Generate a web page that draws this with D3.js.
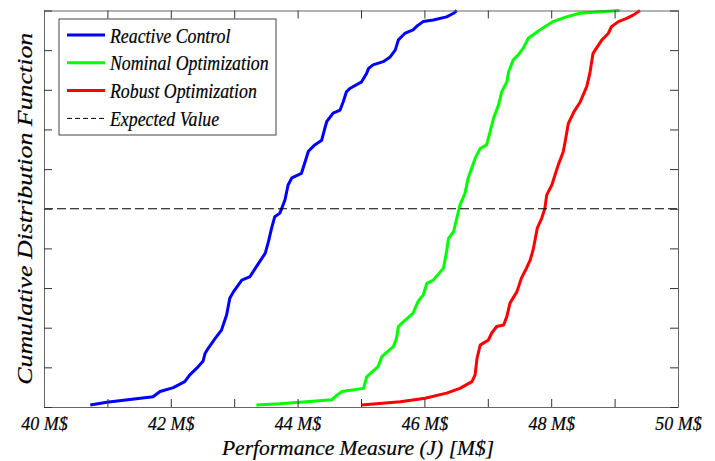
<!DOCTYPE html>
<html>
<head>
<meta charset="utf-8">
<script src="https://cdn.jsdelivr.net/npm/d3@7"></script>
<style>
  body { margin: 0; background: #fff; }
  text { font-family: "Liberation Serif", "Times New Roman", serif; font-style: italic; fill: #000; stroke: #000; stroke-width: 0.2px; }
</style>
</head>
<body>
<svg id="chart" width="715" height="461"></svg>
<script>
// empirical CDF samples, [performance M$, cumulative probability]
const reactive = [
  [40.73, .005], [40.99, .012], [41.72, .026], [41.83, .039], [42.04, .049], [42.22, .064],
  [42.30, .081], [42.41, .098], [42.51, .116], [42.54, .135], [42.59, .148], [42.70, .173],
  [42.80, .194], [42.88, .232], [42.93, .274], [42.99, .291], [43.12, .320], [43.25, .329],
  [43.35, .354], [43.49, .388], [43.54, .417], [43.59, .451], [43.64, .480], [43.72, .489],
  [43.75, .501], [43.80, .522], [43.85, .560], [43.91, .578], [44.06, .589], [44.12, .619],
  [44.17, .645], [44.27, .661], [44.38, .673], [44.43, .703], [44.46, .720], [44.56, .741],
  [44.67, .749], [44.72, .770], [44.77, .795], [44.83, .804], [45.01, .820], [45.09, .842],
  [45.12, .854], [45.19, .863], [45.35, .871], [45.46, .883], [45.54, .900], [45.59, .926],
  [45.69, .942], [45.82, .951], [45.90, .963], [45.98, .972], [46.14, .976], [46.35, .984],
  [46.46, .993], [46.51, 1.0]
];
const nominal = [
  [43.35, .005], [43.72, .008], [44.04, .012], [44.54, .018], [44.62, .030], [44.70, .039],
  [45.04, .047], [45.09, .076], [45.27, .102], [45.33, .127], [45.51, .152], [45.56, .173],
  [45.59, .203], [45.64, .211], [45.82, .236], [45.90, .266], [45.98, .282], [46.04, .312],
  [46.14, .320], [46.30, .350], [46.35, .392], [46.38, .425], [46.46, .442], [46.51, .476],
  [46.56, .509], [46.64, .539], [46.69, .577], [46.80, .627], [46.88, .652], [46.98, .661],
  [47.03, .690], [47.09, .728], [47.17, .762], [47.22, .795], [47.30, .820], [47.33, .846],
  [47.40, .875], [47.48, .888], [47.56, .905], [47.64, .930], [47.82, .951], [48.03, .972],
  [48.24, .984], [48.45, .993], [48.90, .998], [49.08, 1.0]
];
const robust = [
  [45.01, .005], [45.62, .013], [46.01, .022], [46.35, .035], [46.56, .047], [46.75, .064],
  [46.80, .081], [46.83, .123], [46.88, .156], [47.01, .169], [47.06, .186], [47.14, .203],
  [47.25, .207], [47.30, .228], [47.35, .262], [47.46, .291], [47.53, .325], [47.61, .350],
  [47.67, .371], [47.72, .400], [47.78, .451], [47.85, .476], [47.90, .501], [47.93, .535],
  [48.01, .560], [48.06, .585], [48.11, .610], [48.19, .644], [48.22, .669], [48.27, .715],
  [48.36, .745], [48.46, .770], [48.56, .808], [48.61, .842], [48.66, .892], [48.80, .926],
  [48.90, .942], [48.95, .959], [49.06, .972], [49.19, .980], [49.30, .989], [49.40, 1.0]
];
const expectedValue = 0.5;

const seriesNames = ["Reactive Control", "Nominal Optimization", "Robust Optimization"];
const seriesColors = ["#0000ff", "#00ff00", "#ff0000"];
const xTicks = d3.range(40, 51);
const xLabel = "Performance Measure (J) [M$]";
const yLabel = "Cumulative Distribution Function";

const svg = d3.select("#chart");
const margin = { left: 44, right: 37, top: 10.5, bottom: 54 };
const W = 715, H = 461;

const x = d3.scaleLinear().domain([40, 50]).range([margin.left, W - margin.right]);
const y = d3.scaleLinear().domain([0, 1]).range([H - margin.bottom, margin.top]);

// data lines
const line = d3.line().x(d => x(d[0])).y(d => y(d[1]));
[reactive, nominal, robust].forEach((s, i) => {
  svg.append("path")
    .datum(s)
    .attr("fill", "none")
    .attr("stroke", seriesColors[i])
    .attr("stroke-width", 3)
    .attr("stroke-linejoin", "round")
    .attr("d", line);
});

// expected value
svg.append("line")
  .attr("x1", x(40)).attr("x2", x(50))
  .attr("y1", y(expectedValue)).attr("y2", y(expectedValue))
  .attr("stroke", "#000").attr("stroke-width", 1)
  .attr("stroke-dasharray", "9,4");

// axes, ticks pointing inward on all four sides
function styleAxis(g) {
  g.selectAll(".domain").attr("stroke", "#666");
  g.selectAll(".tick line").attr("stroke", "#333");
}
svg.append("g")
  .attr("transform", `translate(0,${y(0)})`)
  .call(d3.axisBottom(x).tickValues(xTicks).tickSize(-8).tickSizeOuter(0).tickPadding(10)
    .tickFormat(d => d % 2 === 0 ? `${d} M$` : ""))
  .call(styleAxis)
  .call(g => g.selectAll("text").attr("font-family", null).attr("font-size", 18));
svg.append("g")
  .attr("transform", `translate(0,${y(1)})`)
  .call(d3.axisTop(x).tickValues(xTicks).tickSize(-8).tickSizeOuter(0).tickFormat(""))
  .call(styleAxis);
svg.append("g")
  .attr("transform", `translate(${x(40)},0)`)
  .call(d3.axisLeft(y).ticks(10).tickSize(-8).tickSizeOuter(0).tickFormat(""))
  .call(styleAxis);
svg.append("g")
  .attr("transform", `translate(${x(50)},0)`)
  .call(d3.axisRight(y).ticks(10).tickSize(-8).tickSizeOuter(0).tickFormat(""))
  .call(styleAxis);

// axis titles
svg.append("text")
  .attr("x", (x(40) + x(50)) / 2 - 3)
  .attr("y", 455)
  .attr("text-anchor", "middle")
  .attr("font-size", 21.5)
  .text(xLabel);
svg.append("text")
  .attr("transform", `translate(32,${y(0.5)}) rotate(-90)`)
  .attr("text-anchor", "middle")
  .attr("font-size", 22)
  .attr("textLength", 352)
  .attr("lengthAdjust", "spacingAndGlyphs")
  .text(yLabel);

// legend
const legend = svg.append("g").attr("transform", "translate(59,19)");
legend.append("rect")
  .attr("width", 217).attr("height", 116)
  .attr("fill", "#fff").attr("stroke", "#444").attr("stroke-width", 1);
const legendItems = seriesNames.map((n, i) => ({ name: n, color: seriesColors[i], dash: null }))
  .concat([{ name: "Expected Value", color: "#000", dash: "5,3" }]);
legendItems.forEach((d, i) => {
  const cy = 16 + i * 27.8;
  legend.append("line")
    .attr("x1", 8).attr("x2", 46).attr("y1", cy).attr("y2", cy)
    .attr("stroke", d.color)
    .attr("stroke-width", d.dash ? 1 : 3)
    .attr("stroke-dasharray", d.dash);
  legend.append("text")
    .attr("transform", `translate(51,${cy + 7.5}) scale(0.89,1)`)
    .attr("font-size", 20)
    .text(d.name);
});
</script>
</body>
</html>
